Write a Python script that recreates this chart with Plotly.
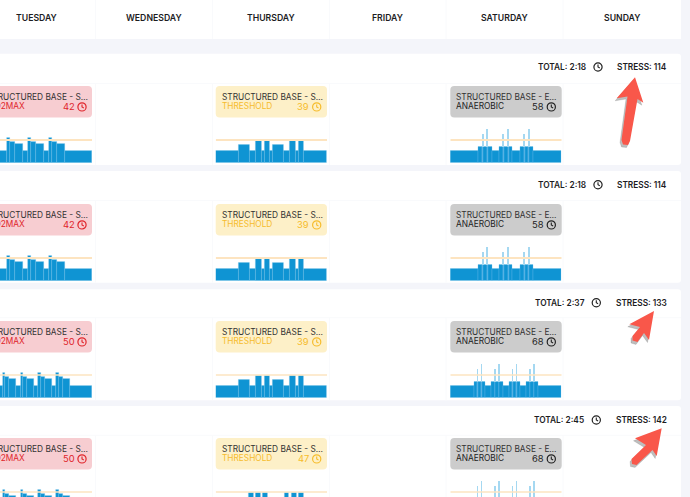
import numpy as np
import plotly.graph_objects as go

W, H = 690, 497

# header row
days = ["TUESDAY", "WEDNESDAY", "THURSDAY", "FRIDAY", "SATURDAY", "SUNDAY"]
day_centers = [36.5, 153.5, 270.5, 387.5, 504.3, 621.7]
col_lines = [95.5, 212.5, 329.5, 446, 563]

# weekly totals
totals = ["TOTAL: 2:18", "TOTAL: 2:18", "TOTAL: 2:37", "TOTAL: 2:45"]
stress = ["STRESS: 114", "STRESS: 114", "STRESS: 133", "STRESS: 142"]

# workout profiles, minutes per step and power relative to threshold
vo2_42_min = [10, 1, 2, 3, 2, 1, 2, 3, 2, 1, 2, 3, 10]
vo2_42_pow = [0.52, 1.1, 0.93, 0.85, 0.52, 1.1, 0.93, 0.85, 0.52, 1.1, 0.93, 0.85, 0.52]
vo2_50_min = [10, 1, 2, 3, 2, 1, 2, 3, 2, 1, 2, 3, 2, 1, 2, 3, 10]
vo2_50_pow = [0.52, 1.1, 0.93, 0.85, 0.52, 1.1, 0.93, 0.85, 0.52, 1.1, 0.93, 0.85, 0.52, 1.1, 0.93, 0.85, 0.52]
thr_39_min = [8, 4, 2, 2, 1, 2, 1, 4, 2, 2, 1, 2, 8]
thr_39_pow = [0.52, 0.79, 0.52, 0.95, 0.52, 0.95, 0.52, 0.79, 0.52, 0.95, 0.52, 0.95, 0.52]
thr_47_min = [8, 4, 2, 2, 1, 2, 1, 2, 1, 4, 2, 2, 1, 2, 1, 2, 10]
thr_47_pow = [0.52, 0.75, 0.52, 0.95, 0.52, 0.95, 0.52, 0.95, 0.52, 0.75, 0.52, 0.95, 0.52, 0.95, 0.52, 0.95, 0.52]
ana_58_min = [15, 2, 0.5, 2, 0.5, 2, 4, 2, 0.5, 2, 0.5, 2, 4, 2, 0.5, 2, 0.5, 2, 15]
ana_58_pow = [0.52, 0.71, 1.25, 0.71, 1.5, 0.71, 0.52, 0.71, 1.25, 0.71, 1.5, 0.71, 0.52, 0.71, 1.25, 0.71, 1.5, 0.71, 0.52]
ana_68_min = [15, 2, 0.5, 2, 0.5, 2, 4, 2, 0.5, 2, 0.5, 2, 4, 2, 0.5, 2, 0.5, 2, 4, 2, 0.5, 2, 0.5, 2, 15]
ana_68_pow = [0.52, 0.71, 1.25, 0.71, 1.5, 0.71, 0.52, 0.71, 1.25, 0.71, 1.5, 0.71, 0.52, 0.71, 1.25, 0.71, 1.5, 0.71, 0.52, 0.71, 1.25, 0.71, 1.5, 0.71, 0.52]
threshold = 1.0

tue_rows = [(vo2_42_min, vo2_42_pow, "42"), (vo2_42_min, vo2_42_pow, "42"),
            (vo2_50_min, vo2_50_pow, "50"), (vo2_50_min, vo2_50_pow, "50")]
thu_rows = [(thr_39_min, thr_39_pow, "39"), (thr_39_min, thr_39_pow, "39"),
            (thr_39_min, thr_39_pow, "39"), (thr_47_min, thr_47_pow, "47")]
sat_rows = [(ana_58_min, ana_58_pow, "58"), (ana_58_min, ana_58_pow, "58"),
            (ana_68_min, ana_68_pow, "68"), (ana_68_min, ana_68_pow, "68")]

# layout in page pixels
card_tops = [53.7, 171, 289.3, 406]
card_bottoms = [165, 282.7, 400.3, 520]
card_lines = [83.5, 200.5, 317.7, 435.3]
total_y = [67, 184.7, 302.7, 420]
total_right = [586, 586, 585, 584.3]
clock_x = [598, 598, 596.3, 596.3]
pill_tops = [86, 204, 321, 438]
chart_base = [163, 281, 398, 515]
px_per_unit = 23

PAGE = "#f4f5fa"
BAR = "#0f94d3"
SEAM = "#49abdf"
SPIKE = "#a5d8f1"
LINE = "#fde4c0"
GRID = "#f9fafc"
FONT = "Inter"

fig = go.Figure()
shapes = []
notes = []


def text(x, y, s, size=8.3, color="#333333", weight=400, anchor="left"):
    notes.append(dict(x=x, y=y, xref="x", yref="y", text=s, showarrow=False, xanchor=anchor, yanchor="middle",
                      font=dict(family=FONT, size=size, color=color, weight=weight), borderpad=0, borderwidth=0))


def rect(x0, y0, x1, y1, color):
    shapes.append(dict(type="rect", x0=x0, y0=y0, x1=x1, y1=y1, xref="x", yref="y", fillcolor=color, line_width=0, layer="below"))


def round_rect(x0, y0, x1, y1, r, color):
    p = (f"M{x0+r},{y0} L{x1-r},{y0} Q{x1},{y0} {x1},{y0+r} L{x1},{y1-r} Q{x1},{y1} {x1-r},{y1} "
         f"L{x0+r},{y1} Q{x0},{y1} {x0},{y1-r} L{x0},{y0+r} Q{x0},{y0} {x0+r},{y0} Z")
    shapes.append(dict(type="path", path=p, xref="x", yref="y", fillcolor=color, line_width=0, layer="below"))


def clock(cx, cy, color, r=4.1):
    shapes.append(dict(type="circle", x0=cx-r, y0=cy-r, x1=cx+r, y1=cy+r, xref="x", yref="y",
                       line=dict(color=color, width=1.2), layer="above"))
    shapes.append(dict(type="path", path=f"M{cx},{cy-2.4} L{cx},{cy} L{cx+1.8},{cy+1}", xref="x", yref="y",
                       line=dict(color=color, width=1.1), layer="above"))


def arrow(points, color="#f9574a", shadow=(-1.5, 2.5)):
    # shadow first, then the arrow itself
    dx, dy = shadow
    p = "M" + " L".join(f"{x+dx},{y+dy}" for x, y in points) + " Z"
    shapes.append(dict(type="path", path=p, xref="x", yref="y", fillcolor="rgba(70,70,70,0.35)",
                       line=dict(color="rgba(70,70,70,0.15)", width=1), layer="above"))
    p = "M" + " L".join(f"{x},{y}" for x, y in points) + " Z"
    shapes.append(dict(type="path", path=p, xref="x", yref="y", fillcolor=color, line_width=0, layer="above"))


def add_chart(n, row, x0, x1, full_x0, minutes, power):
    # every mini chart has its own pair of axes placed on the page
    base = chart_base[row]
    top = base - 1.7 * px_per_unit
    bottom = min(base, H)
    low = (base - bottom) / px_per_unit
    high = (base - top) / px_per_unit
    total = sum(minutes)
    start = (x0 - full_x0) / (x1 - full_x0) * total
    edges = np.cumsum([0] + minutes)
    mids = (edges[:-1] + edges[1:]) / 2
    # short spikes sit pale on top of the step before them, with a faint seam through it
    under = [min(p, power[k-1]) if minutes[k] < 1 else p for k, p in enumerate(power)]
    over = [p - u for p, u in zip(power, under)]
    colors = [SEAM if m < 1 else BAR for m in minutes]
    xa, ya = f"x{n}", f"y{n}"
    fig.add_trace(go.Scatter(x=[start, total], y=[threshold, threshold], mode="lines", xaxis=xa, yaxis=ya,
                             line=dict(color=LINE, width=2 if row < 2 else 1.4), hoverinfo="skip", showlegend=False))
    fig.add_trace(go.Bar(x=mids, y=under, width=minutes, xaxis=xa, yaxis=ya,
                         marker=dict(color=colors, line=dict(color="rgba(110,190,235,0.55)", width=0.6)),
                         hoverinfo="skip", showlegend=False))
    if max(over) > 0:
        fig.add_trace(go.Bar(x=mids, y=over, base=under, width=minutes, xaxis=xa, yaxis=ya,
                             marker=dict(color=SPIKE, line_width=0), hoverinfo="skip", showlegend=False))
    axis = dict(visible=False, fixedrange=True)
    fig.update_layout({
        f"xaxis{n}": dict(axis, domain=[x0 / W, x1 / W], range=[start, total], anchor=ya),
        f"yaxis{n}": dict(axis, domain=[(H - bottom) / H, (H - top) / H], range=[low, high], anchor=xa),
    })


# page pieces
rect(0, 0, 681, 39, "white")
for x in col_lines:
    shapes.append(dict(type="line", x0=x, x1=x, y0=0, y1=39, xref="x", yref="y", line=dict(color=GRID, width=1), layer="below"))
for d, x in zip(days, day_centers):
    text(x, 18, d, size=8.7, color="#1d1d1f", weight=600, anchor="center")

n = 2
for i in range(4):
    round_rect(-5, card_tops[i], 681, card_bottoms[i], 3, "white")
    shapes.append(dict(type="line", x0=0, x1=681, y0=card_lines[i], y1=card_lines[i], xref="x", yref="y",
                       line=dict(color=GRID, width=1), layer="below"))
    for x in col_lines:
        shapes.append(dict(type="line", x0=x, x1=x, y0=card_lines[i], y1=card_bottoms[i], xref="x", yref="y",
                           line=dict(color=GRID, width=1), layer="below"))
    text(total_right[i], total_y[i], totals[i], size=8.3, color="#1d1d1f", weight=600, anchor="right")
    clock(clock_x[i], total_y[i], "#222222")
    text(666.7, total_y[i], stress[i], size=8.3, color="#1d1d1f", weight=600, anchor="right")

    top = pill_tops[i]
    mid1, mid2 = top + 10.9, top + 20.4

    # tuesday, runs off the left of the page
    mins, pw, label = tue_rows[i]
    round_rect(-19.6, top, 92, top + 31.5, 4, "#f7cdd1")
    text(88.3, mid1, "STRUCTURED BASE - S…", anchor="right")
    text(25, mid2, "VO2MAX", color="#e0252b", anchor="right")
    text(74.7, mid2 + 0.5, label, size=9.4, color="#e0252b", anchor="right")
    clock(82, mid2 + 0.5, "#e0252b")
    add_chart(n, i, 0, 92, -19.6, mins, pw)
    n += 1

    # thursday
    mins, pw, label = thu_rows[i]
    round_rect(215.7, top, 327, top + 31.5, 4, "#fdf0c8")
    text(221.7, mid1, "STRUCTURED BASE - S…")
    text(221.7, mid2, "THRESHOLD", color="#f6bc2c")
    text(309.3, mid2 + 0.5, label, size=9.4, color="#f6bc2c", anchor="right")
    clock(316.7, mid2 + 0.5, "#f6bc2c")
    add_chart(n, i, 215.7, 327, 215.7, mins, pw)
    n += 1

    # saturday
    mins, pw, label = sat_rows[i]
    round_rect(450.3, top, 561.7, top + 31.5, 4, "#cccccc")
    text(456.3, mid1, "STRUCTURED BASE - E…")
    text(456.3, mid2, "ANAEROBIC", color="#222222")
    text(544, mid2 + 0.5, label, size=9.4, color="#222222", anchor="right")
    clock(551.3, mid2 + 0.5, "#222222")
    add_chart(n, i, 450.3, 561.7, 450.3, mins, pw)
    n += 1

# the red arrows drawn on the screenshot
arrow([(635, 77.3), (616.7, 98.3), (627.5, 96.5), (621.5, 140), (623, 144.5), (628, 145), (630, 141), (637.5, 99), (643.3, 102.7)])
arrow([(654, 311), (629.3, 324.3), (640, 327), (632.5, 336), (632.5, 340.5), (637.5, 342), (644, 333), (649, 340), (654, 311)])
arrow([(661.7, 428.3), (635, 438.3), (646, 445), (631.5, 459), (632, 464), (636.5, 465), (652.5, 450), (656.7, 456), (661.7, 428.3)])

fig.update_layout(
    width=W, height=H, autosize=False,
    margin=dict(l=0, r=0, t=0, b=0, pad=0),
    paper_bgcolor=PAGE, plot_bgcolor="rgba(0,0,0,0)",
    barmode="overlay", bargap=0,
    xaxis=dict(range=[0, W], visible=False, fixedrange=True, domain=[0, 1]),
    yaxis=dict(range=[H, 0], visible=False, fixedrange=True, domain=[0, 1]),
    shapes=shapes, annotations=notes, showlegend=False,
)
fig.write_html("out.html", config=dict(displayModeBar=False),
               post_script="document.body.style.margin='0';document.body.style.overflow='hidden';")
